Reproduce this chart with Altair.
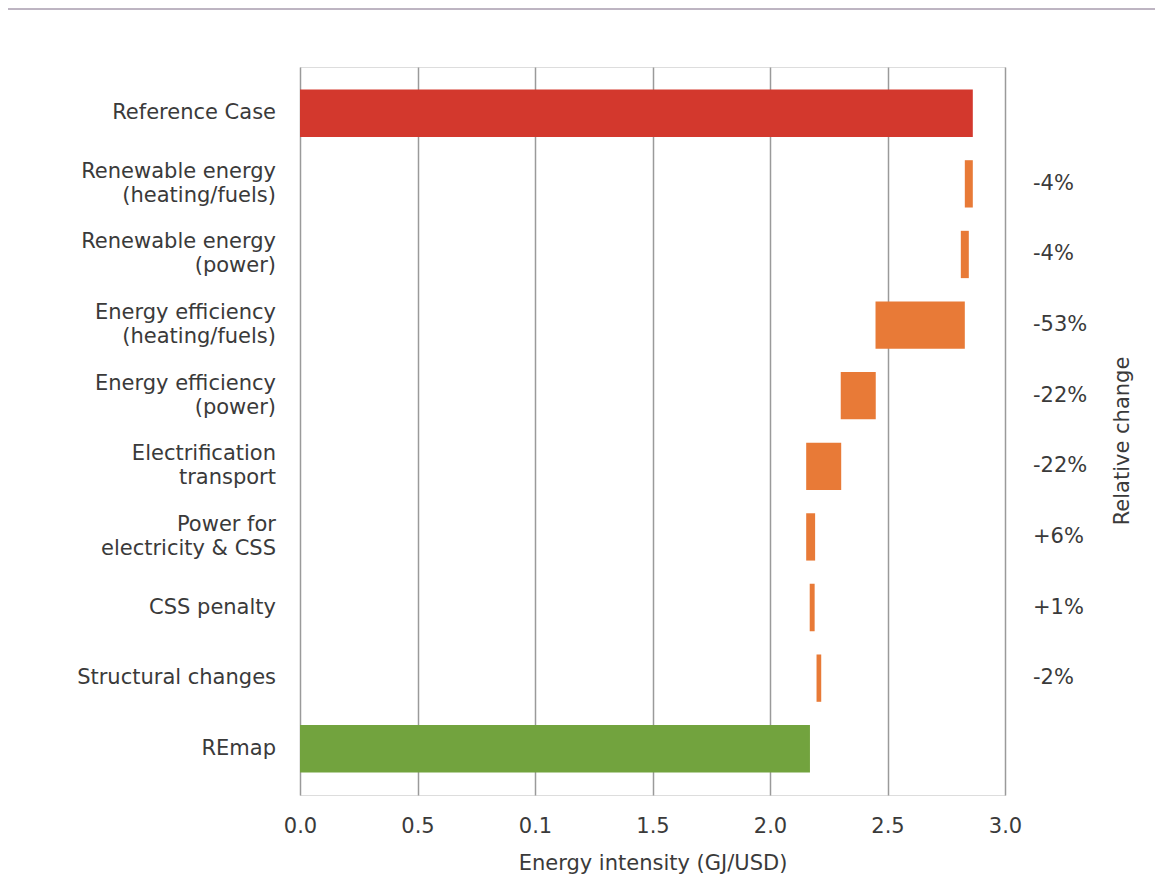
import altair as alt
import pandas as pd

categories = [
    "Reference Case",
    "Renewable energy|(heating/fuels)",
    "Renewable energy|(power)",
    "Energy efficiency|(heating/fuels)",
    "Energy efficiency|(power)",
    "Electrification|transport",
    "Power for|electricity & CSS",
    "CSS penalty",
    "Structural changes",
    "REmap",
]
starts = [0.0, 2.829, 2.812, 2.449, 2.301, 2.154, 2.154, 2.169, 2.198, 0.0]
ends = [2.863, 2.863, 2.846, 2.829, 2.450, 2.303, 2.192, 2.190, 2.218, 2.170]
kinds = ["Reference", "Step", "Step", "Step", "Step", "Step", "Step", "Step", "Step", "REmap"]
changes = ["", "-4%", "-4%", "-53%", "-22%", "-22%", "+6%", "+1%", "-2%", ""]
tick_values = [0.0, 0.5, 1.0, 1.5, 2.0, 2.5, 3.0]
tick_labels = ["0.0", "0.5", "0.1", "1.5", "2.0", "2.5", "3.0"]

FONT = "DejaVu Sans"
FS = 21
TXT = "#3a3a3a"

df = pd.DataFrame({"cat": categories, "start": starts, "end": ends,
                   "kind": kinds, "change": changes})

# split category names into label lines
rows = []
for c in categories:
    parts = c.split("|")
    if len(parts) == 1:
        rows.append({"cat": c, "line": parts[0], "pos": "single"})
    else:
        rows.append({"cat": c, "line": parts[0], "pos": "first"})
        rows.append({"cat": c, "line": parts[1], "pos": "second"})
lines_df = pd.DataFrame(rows)

label_arr = "[" + ",".join("'" + t + "'" for t in tick_labels) + "]"

y_scale = alt.Scale(paddingInner=0.33, paddingOuter=0.32)

bars = alt.Chart(df).mark_bar().encode(
    x=alt.X("start:Q", scale=alt.Scale(domain=[0, 3.0], nice=False),
            title="Energy intensity (GJ/USD)",
            axis=alt.Axis(values=tick_values,
                          labelExpr=label_arr + "[round(datum.value*2)]",
                          labelFont=FONT, labelFontSize=FS, labelColor=TXT,
                          labelPadding=20, labelFlush=False,
                          titleFont=FONT, titleFontSize=FS,
                          titleFontWeight="normal", titleColor=TXT, titlePadding=16,
                          grid=True, gridColor="#9a9a9a", gridWidth=1.5,
                          ticks=False, domain=False)),
    x2="end:Q",
    y=alt.Y("cat:N", sort=categories, title=None, scale=y_scale, axis=None),
    color=alt.Color("kind:N", legend=None,
                    scale=alt.Scale(domain=["Reference", "Step", "REmap"],
                                    range=["#d3382d", "#e87a37", "#72a33e"])),
)

def label_layer(pos, dy):
    return alt.Chart(lines_df).transform_filter(
        alt.datum.pos == pos
    ).mark_text(align="right", baseline="middle", font=FONT, fontSize=FS,
                color=TXT, dy=dy).encode(
        x=alt.value(-24),
        y=alt.Y("cat:N", sort=categories),
        text="line:N",
    )

lab_single = label_layer("single", 0)
lab_first = label_layer("first", -12)
lab_second = label_layer("second", 12)

change_text = alt.Chart(df).mark_text(align="left", baseline="middle", font=FONT,
                                      fontSize=FS, color=TXT).encode(
    x=alt.value(733),
    y=alt.Y("cat:N", sort=categories),
    text="change:N",
)

side_title = alt.Chart(pd.DataFrame({"t": ["Relative change"]})).mark_text(
    angle=270, font=FONT, fontSize=FS, color=TXT, baseline="middle", align="center"
).encode(x=alt.value(823), y=alt.value(374), text="t:N")

top_line = alt.Chart(pd.DataFrame({"a": [0]})).mark_rule(color="#7d6b85", strokeWidth=1).encode(
    x=alt.value(-295), x2=alt.value(863), y=alt.value(-58)
)

chart = alt.layer(bars, lab_single, lab_first, lab_second, change_text,
                  side_title, top_line).properties(
    width=705, height=728,
    autosize=alt.AutoSizeParams(type="none"),
    padding={"left": 292, "top": 59, "right": 150, "bottom": 80},
).configure_view(stroke=None).configure(background="white")

chart.save("out.html", embed_options={"renderer": "svg", "actions": False})
